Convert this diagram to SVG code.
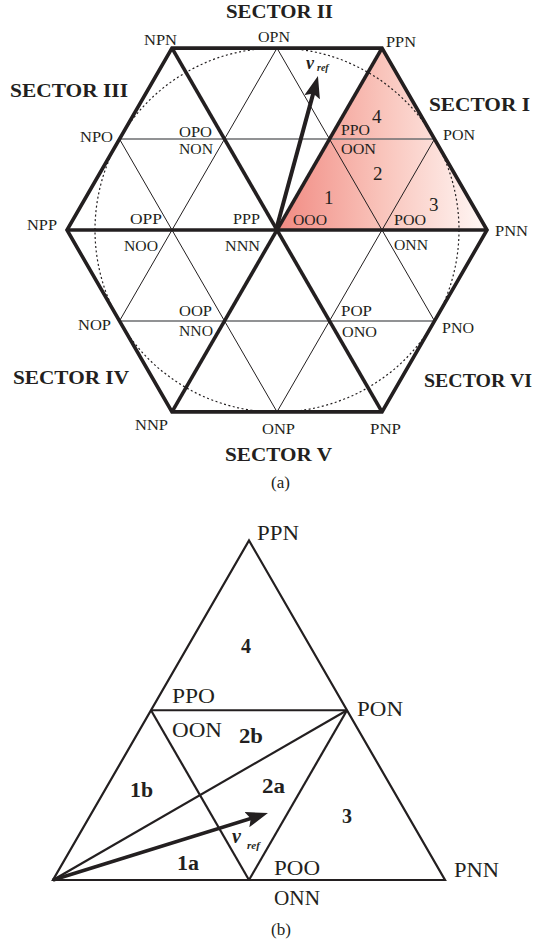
<svg xmlns="http://www.w3.org/2000/svg" width="540" height="946" viewBox="0 0 540 946">
  <style>
    text { font-family: "Liberation Serif", "Times New Roman", serif; fill: #231f20; }
    .lbl { font-size: 15px; }
    .sec { font-size: 19px; font-weight: bold; }
    .num { font-size: 19px; }
    .bnum { font-size: 20px; font-weight: bold; }
    .big { font-size: 20px; }
    .cap { font-size: 17px; }
    .v { font-weight: bold; font-style: italic; }
    .thick { stroke: #231f20; stroke-width: 3.6; fill: none; stroke-linejoin: miter; }
    .thin { stroke: #231f20; stroke-width: 1; fill: none; }
    .grey { stroke: #6d6e71; stroke-width: 1.6; fill: none; }
    .edge { stroke: #231f20; stroke-width: 2.2; fill: none; stroke-linejoin: miter; }
  </style>
  <defs>
    <linearGradient id="sectorFill" gradientUnits="userSpaceOnUse" x1="277" y1="0" x2="487" y2="0">
      <stop offset="0" stop-color="#f18a82"/>
      <stop offset="0.5" stop-color="#f9c4bb"/>
      <stop offset="1" stop-color="#fff8f6"/>
    </linearGradient>
    <marker id="head" markerUnits="userSpaceOnUse" viewBox="0 0 22 16" refX="10" refY="8" markerWidth="22" markerHeight="16" orient="auto">
      <path d="M0,0 L22,8 L0,16 L4,8 Z" fill="#231f20"/>
    </marker>
  </defs>

  <!-- (a) space-vector hexagon -->
  <g id="hexagon">
    <polygon id="sector1-fill" points="277,230 487,230 382,48.13" fill="url(#sectorFill)"/>
    <circle cx="277" cy="230" r="182" fill="none" stroke="#231f20" stroke-width="1.2" stroke-dasharray="2 2.5"/>
    <g id="grid-lines">
      <line class="grey" x1="119.5" y1="139.07" x2="434.5" y2="139.07"/>
      <line class="grey" x1="119.5" y1="320.93" x2="434.5" y2="320.93"/>
      <line class="thin" x1="277" y1="48.13" x2="119.5" y2="320.93"/>
      <line class="thin" x1="434.5" y1="139.07" x2="277" y2="411.87"/>
      <line class="thin" x1="119.5" y1="139.07" x2="277" y2="411.87"/>
      <line class="thin" x1="277" y1="48.13" x2="434.5" y2="320.93"/>
    </g>
    <g id="sector-borders">
      <polygon class="thick" points="487,230 382,48.13 172,48.13 67,230 172,411.87 382,411.87"/>
      <line class="thick" x1="67" y1="230" x2="487" y2="230"/>
      <line class="thick" x1="172" y1="48.13" x2="382" y2="411.87"/>
      <line class="thick" x1="382" y1="48.13" x2="172" y2="411.87"/>
    </g>
    <g id="vref-a">
      <line x1="276" y1="230" x2="314.8" y2="87.6" stroke="#231f20" stroke-width="4" marker-end="url(#head)"/>
      <text x="306" y="68.5" class="v" font-size="18">v</text>
      <text x="317" y="71" class="v" font-size="10">ref</text>
    </g>
  </g>

  <g id="sector-labels">
    <text class="sec" x="226" y="18" textLength="107" lengthAdjust="spacingAndGlyphs">SECTOR II</text>
    <text class="sec" x="10" y="96.5" textLength="118" lengthAdjust="spacingAndGlyphs">SECTOR III</text>
    <text class="sec" x="429" y="110.5" textLength="101" lengthAdjust="spacingAndGlyphs">SECTOR I</text>
    <text class="sec" x="13" y="384" textLength="116" lengthAdjust="spacingAndGlyphs">SECTOR IV</text>
    <text class="sec" x="225" y="460.5" textLength="107" lengthAdjust="spacingAndGlyphs">SECTOR V</text>
    <text class="sec" x="424" y="386.5" textLength="108" lengthAdjust="spacingAndGlyphs">SECTOR VI</text>
  </g>

  <g id="state-labels-a">
    <text class="lbl" x="144" y="45" textLength="33" lengthAdjust="spacingAndGlyphs">NPN</text>
    <text class="lbl" x="258" y="41.5" textLength="32" lengthAdjust="spacingAndGlyphs">OPN</text>
    <text class="lbl" x="386" y="47" textLength="30" lengthAdjust="spacingAndGlyphs">PPN</text>
    <text class="lbl" x="80" y="141.7" textLength="33" lengthAdjust="spacingAndGlyphs">NPO</text>
    <text class="lbl" x="179" y="136.5" textLength="33" lengthAdjust="spacingAndGlyphs">OPO</text>
    <text class="lbl" x="179" y="154" textLength="34" lengthAdjust="spacingAndGlyphs">NON</text>
    <text class="lbl" x="341" y="135" textLength="29" lengthAdjust="spacingAndGlyphs">PPO</text>
    <text class="lbl" x="341" y="154" textLength="35" lengthAdjust="spacingAndGlyphs">OON</text>
    <text class="lbl" x="443" y="140" textLength="32" lengthAdjust="spacingAndGlyphs">PON</text>
    <text class="lbl" x="130" y="224" textLength="32" lengthAdjust="spacingAndGlyphs">OPP</text>
    <text class="lbl" x="233" y="224" textLength="27" lengthAdjust="spacingAndGlyphs">PPP</text>
    <text class="lbl" x="27" y="230" textLength="30" lengthAdjust="spacingAndGlyphs">NPP</text>
    <text class="lbl" x="124" y="250.5" textLength="34" lengthAdjust="spacingAndGlyphs">NOO</text>
    <text class="lbl" x="225" y="250.5" textLength="35" lengthAdjust="spacingAndGlyphs">NNN</text>
    <text class="lbl" x="293" y="225" textLength="34" lengthAdjust="spacingAndGlyphs">OOO</text>
    <text class="lbl" x="394" y="225" textLength="32" lengthAdjust="spacingAndGlyphs">POO</text>
    <text class="lbl" x="495" y="235.5" textLength="33" lengthAdjust="spacingAndGlyphs">PNN</text>
    <text class="lbl" x="394" y="250" textLength="34" lengthAdjust="spacingAndGlyphs">ONN</text>
    <text class="lbl" x="179" y="315.5" textLength="33" lengthAdjust="spacingAndGlyphs">OOP</text>
    <text class="lbl" x="179" y="336" textLength="34" lengthAdjust="spacingAndGlyphs">NNO</text>
    <text class="lbl" x="78" y="330" textLength="33" lengthAdjust="spacingAndGlyphs">NOP</text>
    <text class="lbl" x="341" y="315.5" textLength="31" lengthAdjust="spacingAndGlyphs">POP</text>
    <text class="lbl" x="342" y="336.5" textLength="35" lengthAdjust="spacingAndGlyphs">ONO</text>
    <text class="lbl" x="442" y="333" textLength="32" lengthAdjust="spacingAndGlyphs">PNO</text>
    <text class="lbl" x="135" y="430" textLength="33" lengthAdjust="spacingAndGlyphs">NNP</text>
    <text class="lbl" x="262" y="434" textLength="33" lengthAdjust="spacingAndGlyphs">ONP</text>
    <text class="lbl" x="370" y="434" textLength="31" lengthAdjust="spacingAndGlyphs">PNP</text>
  </g>

  <g id="region-numbers-a">
    <text class="num" x="372" y="123">4</text>
    <text class="num" x="373" y="180">2</text>
    <text class="num" x="324" y="204">1</text>
    <text class="num" x="429" y="211">3</text>
  </g>

  <text class="cap" x="271" y="488">(a)</text>

  <!-- (b) sector I detail -->
  <g id="sector-detail">
    <polygon class="edge" points="53,880 445,880 249,540.5"/>
    <g id="detail-connectors">
      <line class="edge" x1="151" y1="710.25" x2="347" y2="710.25"/>
      <line class="edge" x1="151" y1="710.25" x2="249" y2="880"/>
      <line class="edge" x1="249" y1="880" x2="347" y2="710.25"/>
      <line class="edge" x1="53" y1="880" x2="347" y2="710.25"/>
    </g>
    <g id="vref-b">
      <line x1="53" y1="880" x2="256.5" y2="816.6" stroke="#231f20" stroke-width="3.6" marker-end="url(#head)"/>
      <text x="232" y="843" class="v" font-size="20">v</text>
      <text x="247" y="849" class="v" font-size="11">ref</text>
    </g>
  </g>

  <g id="state-labels-b">
    <text class="big" x="257" y="540" textLength="42" lengthAdjust="spacingAndGlyphs">PPN</text>
    <text class="big" x="172" y="703" textLength="43" lengthAdjust="spacingAndGlyphs">PPO</text>
    <text class="big" x="357" y="715.5" textLength="46" lengthAdjust="spacingAndGlyphs">PON</text>
    <text class="big" x="172" y="736.5" textLength="50" lengthAdjust="spacingAndGlyphs">OON</text>
    <text class="big" x="274" y="875" textLength="46" lengthAdjust="spacingAndGlyphs">POO</text>
    <text class="big" x="454" y="876.5" textLength="45" lengthAdjust="spacingAndGlyphs">PNN</text>
    <text class="big" x="274" y="905" textLength="46" lengthAdjust="spacingAndGlyphs">ONN</text>
  </g>

  <g id="region-numbers-b">
    <text class="bnum" x="241" y="653">4</text>
    <text class="bnum" x="239" y="742.5" textLength="24" lengthAdjust="spacingAndGlyphs">2b</text>
    <text class="bnum" x="130" y="796.5" textLength="23" lengthAdjust="spacingAndGlyphs">1b</text>
    <text class="bnum" x="262" y="793" textLength="23" lengthAdjust="spacingAndGlyphs">2a</text>
    <text class="bnum" x="177" y="870" textLength="22" lengthAdjust="spacingAndGlyphs">1a</text>
    <text class="bnum" x="342" y="823">3</text>
  </g>

  <text class="cap" x="271" y="935">(b)</text>
</svg>
